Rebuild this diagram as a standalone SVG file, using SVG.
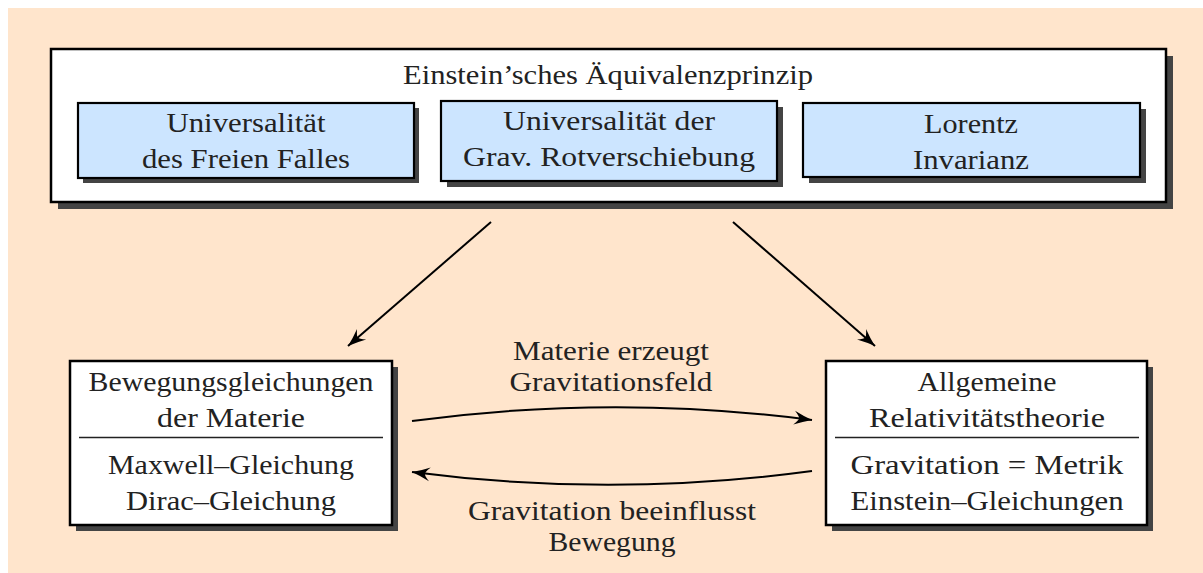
<svg xmlns="http://www.w3.org/2000/svg" width="1203" height="573" viewBox="0 0 1203 573">
  <style>
    .t { font-family: "Liberation Serif", "DejaVu Serif", serif; font-size: 27px; fill: #222; text-anchor: middle; }
    .shadow { fill: #444; }
    .box { fill: #fff; stroke: #000; stroke-width: 2.5; }
    .inner { fill: #cce5ff; stroke: #000; stroke-width: 2.2; }
    .sep { stroke: #222; stroke-width: 1.6; }
    .conn { fill: none; stroke: #000; stroke-width: 2; marker-end: url(#arr); }
  </style>
  <defs>
    <marker id="arr" markerUnits="userSpaceOnUse" markerWidth="20" markerHeight="16" refX="18" refY="8" orient="auto" viewBox="0 0 20 16">
      <path d="M18,8 Q9,5.2 0,1 Q5,6 5,8 Q5,10 0,15 Q9,10.8 18,8 Z" fill="#000"/>
    </marker>
  </defs>
  <rect x="8" y="8" width="1195" height="565" fill="#ffe5cc"/>

  <g id="aequivalenzprinzip">
    <rect class="shadow" x="58" y="56" width="1115" height="153"/>
    <rect class="box" x="51" y="49" width="1115" height="153"/>
    <text class="t" x="608" y="84" textLength="410" lengthAdjust="spacingAndGlyphs">Einstein’sches Äquivalenzprinzip</text>
  </g>

  <g id="freier-fall">
    <rect class="shadow" x="83" y="108" width="336" height="75"/>
    <rect class="inner" x="78" y="103" width="336" height="75"/>
    <text class="t" x="246" y="132" textLength="159" lengthAdjust="spacingAndGlyphs">Universalität</text>
    <text class="t" x="246" y="168" textLength="208" lengthAdjust="spacingAndGlyphs">des Freien Falles</text>
  </g>

  <g id="rotverschiebung">
    <rect class="shadow" x="447" y="107" width="336" height="80"/>
    <rect class="inner" x="441" y="101" width="336" height="80"/>
    <text class="t" x="609" y="130" textLength="212" lengthAdjust="spacingAndGlyphs">Universalität der</text>
    <text class="t" x="609" y="166" textLength="292" lengthAdjust="spacingAndGlyphs">Grav. Rotverschiebung</text>
  </g>

  <g id="lorentz">
    <rect class="shadow" x="809" y="109" width="337" height="74"/>
    <rect class="inner" x="803" y="103" width="337" height="74"/>
    <text class="t" x="971" y="133" textLength="94" lengthAdjust="spacingAndGlyphs">Lorentz</text>
    <text class="t" x="971" y="169" textLength="116" lengthAdjust="spacingAndGlyphs">Invarianz</text>
  </g>

  <g id="bewegungsgleichungen">
    <rect class="shadow" x="76" y="367" width="322" height="164"/>
    <rect class="box" x="70" y="361" width="322" height="164"/>
    <text class="t" x="231" y="391" textLength="285" lengthAdjust="spacingAndGlyphs">Bewegungsgleichungen</text>
    <text class="t" x="231" y="427" textLength="148" lengthAdjust="spacingAndGlyphs">der Materie</text>
    <line class="sep" x1="79" y1="437.5" x2="383" y2="437.5"/>
    <text class="t" x="231" y="474" textLength="246" lengthAdjust="spacingAndGlyphs">Maxwell–Gleichung</text>
    <text class="t" x="231" y="510" textLength="210" lengthAdjust="spacingAndGlyphs">Dirac–Gleichung</text>
  </g>

  <g id="art">
    <rect class="shadow" x="832" y="367" width="321" height="164"/>
    <rect class="box" x="826" y="361" width="321" height="164"/>
    <text class="t" x="987" y="391" textLength="139" lengthAdjust="spacingAndGlyphs">Allgemeine</text>
    <text class="t" x="987" y="427" textLength="236" lengthAdjust="spacingAndGlyphs">Relativitätstheorie</text>
    <line class="sep" x1="835" y1="437.5" x2="1139" y2="437.5"/>
    <text class="t" x="987" y="474" textLength="273" lengthAdjust="spacingAndGlyphs">Gravitation = Metrik</text>
    <text class="t" x="987" y="510" textLength="273" lengthAdjust="spacingAndGlyphs">Einstein–Gleichungen</text>
  </g>

  <g id="connectors">
    <path class="conn" d="M491,222 L348,346"/>
    <path class="conn" d="M733,222 L875,346"/>
    <path class="conn" d="M412,421 Q612,394 812,420"/>
    <path class="conn" d="M812,471 Q612,498 412,472"/>
    <text class="t" x="611" y="360" textLength="196" lengthAdjust="spacingAndGlyphs">Materie erzeugt</text>
    <text class="t" x="611" y="391" textLength="203" lengthAdjust="spacingAndGlyphs">Gravitationsfeld</text>
    <text class="t" x="612" y="520" textLength="288" lengthAdjust="spacingAndGlyphs">Gravitation beeinflusst</text>
    <text class="t" x="612" y="551" textLength="127" lengthAdjust="spacingAndGlyphs">Bewegung</text>
  </g>
</svg>
